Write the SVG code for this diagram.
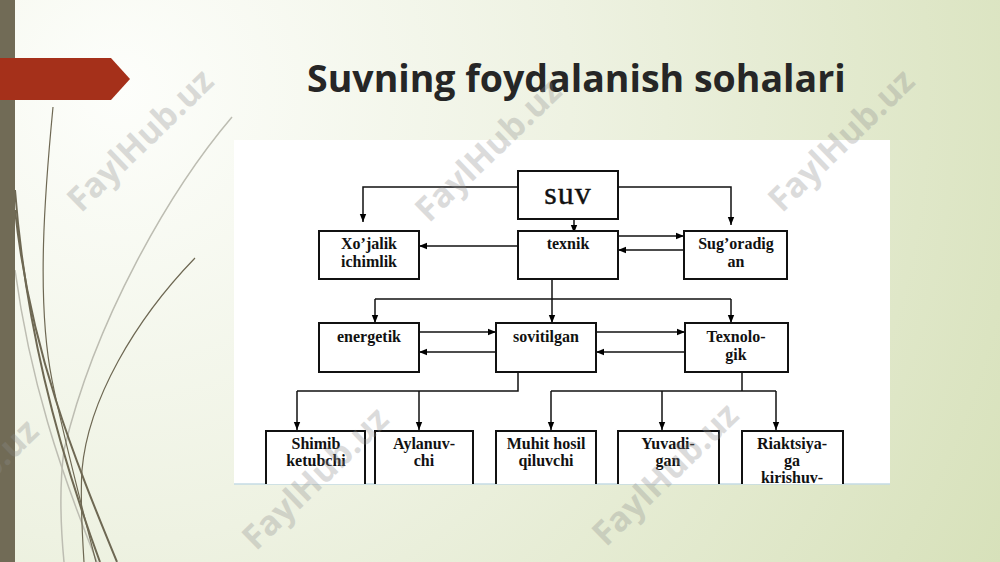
<svg xmlns="http://www.w3.org/2000/svg" width="1000" height="562" viewBox="0 0 1000 562">
<defs>
<radialGradient id="bg" cx="120" cy="90" r="1000" gradientUnits="userSpaceOnUse">
<stop offset="0" stop-color="#fdfefb"/>
<stop offset="0.45" stop-color="#eef2e2"/>
<stop offset="1" stop-color="#d7e1ba"/>
</radialGradient>
<clipPath id="panel"><rect x="234" y="140" width="656" height="344"/></clipPath>
<marker id="ah" markerWidth="8" markerHeight="8" viewBox="0 0 10 10" refX="10" refY="5" orient="auto" markerUnits="userSpaceOnUse">
<path d="M0,1 L10,5 L0,9 Z" fill="#000"/>
</marker>
<style>
.box{fill:#fff;stroke:#111;stroke-width:2}
.lbl{font-family:"Liberation Serif",serif;font-weight:bold;font-size:16px;fill:#111;text-anchor:middle}
.con{fill:none;stroke:#111;stroke-width:1.5}
.arr{fill:none;stroke:#111;stroke-width:1.5;marker-end:url(#ah)}
.wm{font-family:"Open Sans",sans-serif;font-weight:bold;font-size:34px;fill:#8c8c8c;opacity:0.3;text-anchor:middle}
.curveD{fill:none;stroke:#6e6853;stroke-width:2}
.curveT{fill:none;stroke:#6e6853;stroke-width:1.2}
.curveL{fill:none;stroke:#bdbdb2;stroke-width:1.5}
</style>
</defs>
<rect width="1000" height="562" fill="url(#bg)"/>
<g id="decor">
<path class="curveL" d="M232,117 C170,190 95,320 64,450 C60,480 60,520 64,562"/>
<path class="curveL" d="M15,270 C30,380 60,470 97,562"/>
<path class="curveT" d="M53,107 C45,190 36,300 52,380 C62,430 80,500 96,562"/>
<path class="curveD" d="M15,190 C25,320 55,440 100,562"/>
<path class="curveD" d="M15,210 C30,350 75,460 117,562"/>
<path class="curveT" d="M195,258 C135,320 88,400 82,470 C80,500 82,530 84,562"/>
<rect x="0" y="0" width="15" height="562" fill="#716b56"/>
<path d="M0,58 L111,58 L130,79 L111,100 L0,100 Z" fill="#a5301a"/>
</g>
<text id="title" x="307" y="92" font-family="'Open Sans',sans-serif" font-weight="bold" font-size="37.5" fill="#262626">Suvning foydalanish sohalari</text>
<rect x="234" y="140" width="656" height="344" fill="#fff"/>
<line x1="234" y1="484" x2="890" y2="484" stroke="#c4dbe4" stroke-width="1.5"/>
<g clip-path="url(#panel)">
<g id="connectors">
<path class="arr" d="M518,187 H363 V222"/>
<path class="arr" d="M618,187 H731 V225"/>
<path class="arr" d="M574,219 V233"/>
<path class="arr" d="M518,246 H419"/>
<path class="arr" d="M618,236 H684"/>
<path class="arr" d="M684,250 H618"/>
<path class="arr" d="M552,279 V323"/>
<path class="con" d="M375,299 H731"/>
<path class="arr" d="M375,299 V323"/>
<path class="arr" d="M731,299 V323"/>
<path class="arr" d="M419,332 H496"/>
<path class="arr" d="M496,352 H419"/>
<path class="arr" d="M596,332 H685"/>
<path class="arr" d="M685,352 H596"/>
<path class="con" d="M518,372 V391 H297"/>
<path class="arr" d="M297,391 V430"/>
<path class="arr" d="M419,391 V430"/>
<path class="con" d="M742,372 V391"/>
<path class="con" d="M551,391 H776"/>
<path class="arr" d="M551,391 V430"/>
<path class="arr" d="M662,391 V430"/>
<path class="arr" d="M776,391 V430"/>
</g>
<g id="suv"><rect class="box" x="518" y="171" width="100" height="48"/><text x="568" y="204" font-family="'Liberation Serif',serif" font-size="32" letter-spacing="1" text-anchor="middle" fill="#111" stroke="#111" stroke-width="0.4">suv</text></g>
<g id="xojalik"><rect class="box" x="319" y="231" width="100" height="48"/><text class="lbl" x="369" y="249">Xo’jalik</text><text class="lbl" x="369" y="267">ichimlik</text></g>
<g id="texnik"><rect class="box" x="518" y="231" width="100" height="48"/><text class="lbl" x="568" y="249">texnik</text></g>
<g id="sugoradigan"><rect class="box" x="684" y="231" width="103" height="48"/><text class="lbl" x="736" y="249">Sug’oradig</text><text class="lbl" x="736" y="267">an</text></g>
<g id="energetik"><rect class="box" x="319" y="323" width="100" height="49"/><text class="lbl" x="369" y="342">energetik</text></g>
<g id="sovitilgan"><rect class="box" x="496" y="323" width="100" height="49"/><text class="lbl" x="546" y="342">sovitilgan</text></g>
<g id="texnologik"><rect class="box" x="685" y="323" width="103" height="49"/><text class="lbl" x="736" y="342">Texnolo-</text><text class="lbl" x="736" y="360">gik</text></g>
<g id="shimib"><rect class="box" x="266" y="431" width="99" height="70"/><text class="lbl" x="316" y="449">Shimib</text><text class="lbl" x="316" y="466">ketubchi</text></g>
<g id="aylanuvchi"><rect class="box" x="375" y="431" width="98" height="70"/><text class="lbl" x="424" y="449">Aylanuv-</text><text class="lbl" x="424" y="466">chi</text></g>
<g id="muhit"><rect class="box" x="496" y="431" width="100" height="70"/><text class="lbl" x="546" y="449">Muhit hosil</text><text class="lbl" x="546" y="466">qiluvchi</text></g>
<g id="yuvadigan"><rect class="box" x="618" y="431" width="101" height="70"/><text class="lbl" x="668" y="449">Yuvadi-</text><text class="lbl" x="668" y="466">gan</text></g>
<g id="riaktsiya"><rect class="box" x="742" y="431" width="101" height="70"/><text class="lbl" x="792" y="449">Riaktsiya-</text><text class="lbl" x="792" y="466">ga</text><text class="lbl" x="792" y="483">kirishuv-</text></g>
</g>
<g id="watermarks">
<text class="wm" transform="translate(140,140) rotate(-44)" y="12">FaylHub.uz</text>
<text class="wm" transform="translate(488,150) rotate(-44)" y="12">FaylHub.uz</text>
<text class="wm" transform="translate(841,140) rotate(-44)" y="12">FaylHub.uz</text>
<text class="wm" transform="translate(-35,490) rotate(-44)" y="12">FaylHub.uz</text>
<text class="wm" transform="translate(315,478) rotate(-44)" y="12">FaylHub.uz</text>
<text class="wm" transform="translate(665,474) rotate(-44)" y="12">FaylHub.uz</text>
</g>
</svg>
